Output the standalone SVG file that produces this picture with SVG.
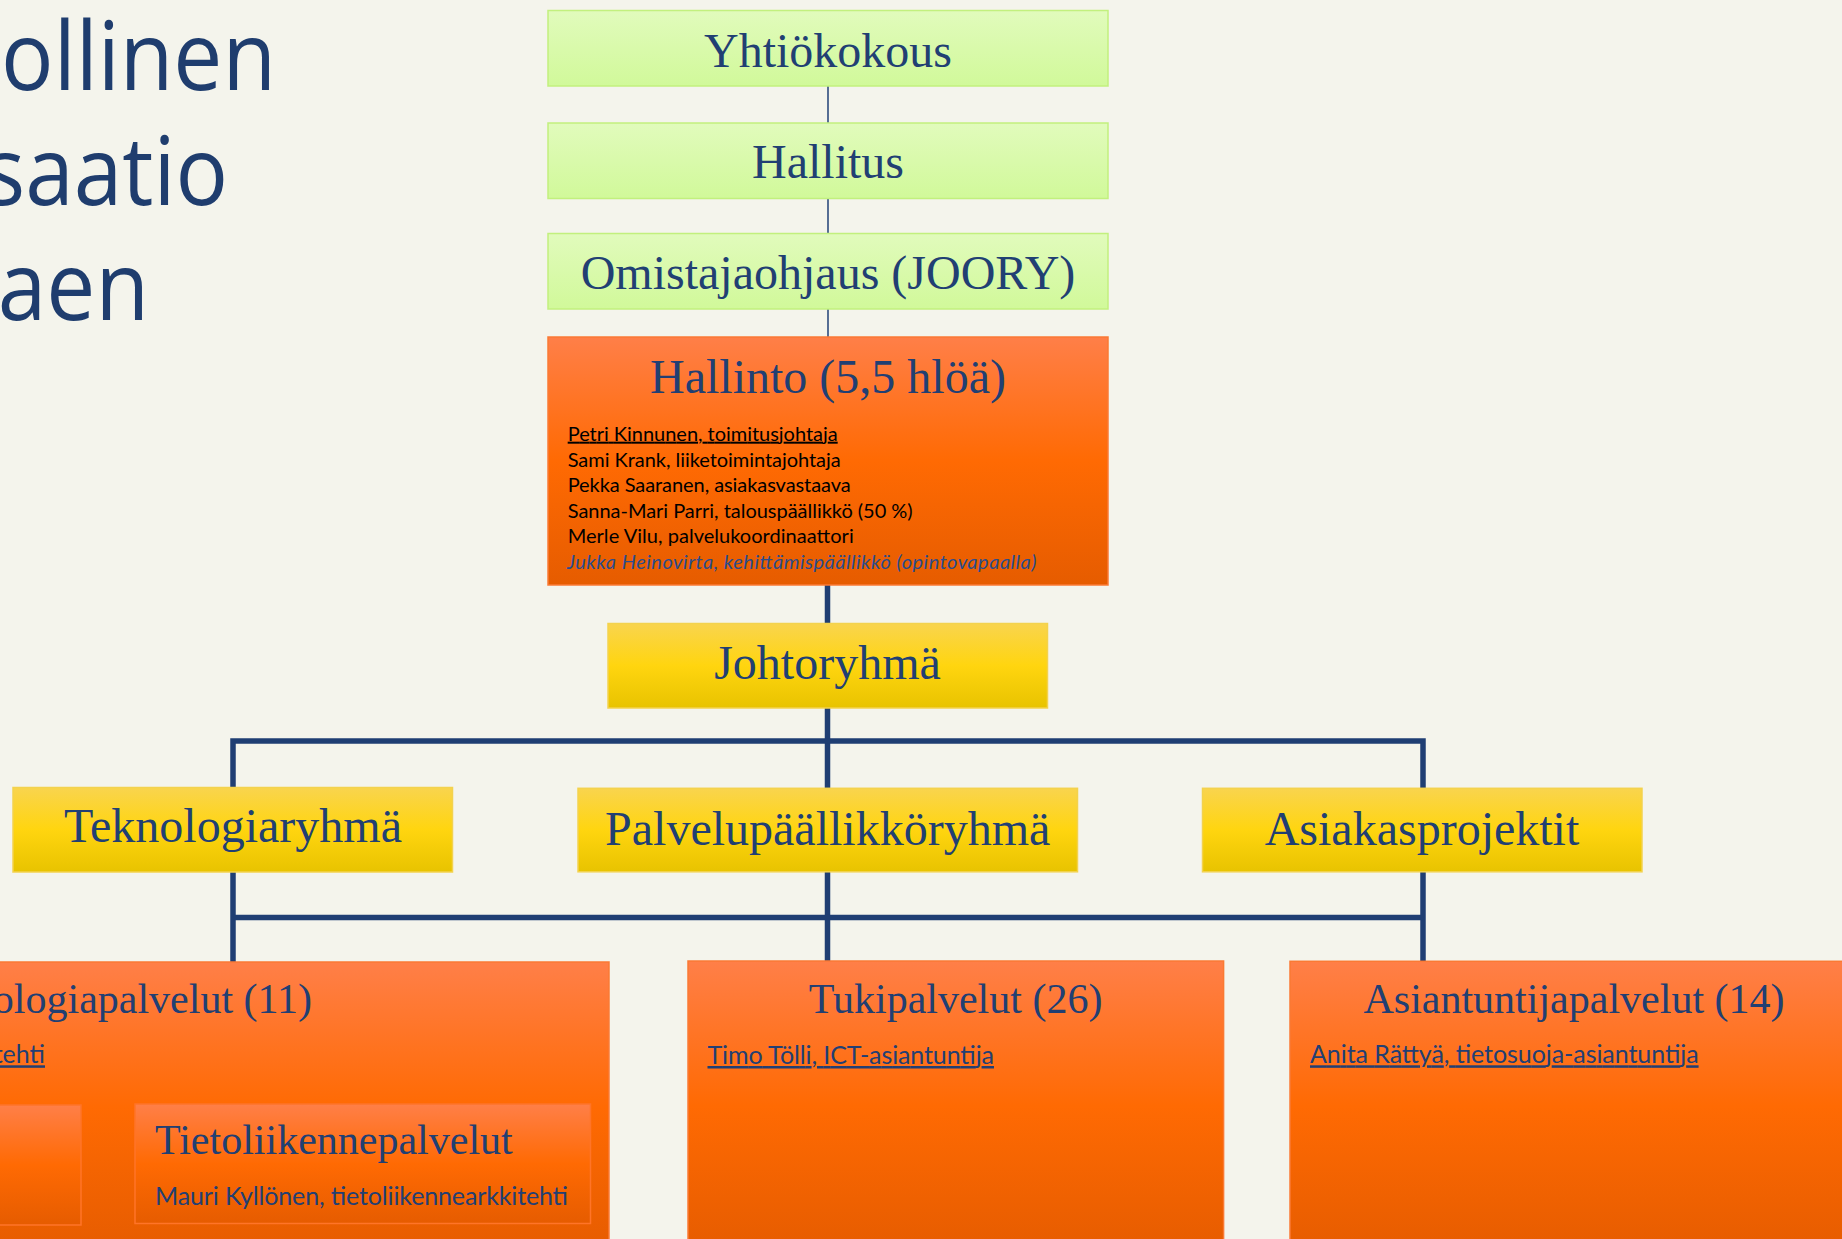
<svg xmlns="http://www.w3.org/2000/svg" width="1842" height="1239" viewBox="0 0 1842 1239">
  <defs>
    <linearGradient id="gGreen" x1="0" y1="0" x2="0" y2="1">
      <stop offset="0" stop-color="#E1FBBC"/>
      <stop offset="1" stop-color="#D1F99A"/>
    </linearGradient>
    <linearGradient id="gOrange" x1="0" y1="0" x2="0" y2="1">
      <stop offset="0" stop-color="#FF7F48"/>
      <stop offset="0.5" stop-color="#FF6A03"/>
      <stop offset="1" stop-color="#E65C00"/>
    </linearGradient>
    <linearGradient id="gYellow" x1="0" y1="0" x2="0" y2="1">
      <stop offset="0" stop-color="#F9D44E"/>
      <stop offset="0.5" stop-color="#FFD50F"/>
      <stop offset="1" stop-color="#E8C300"/>
    </linearGradient>
    <style>
      .green { fill: url(#gGreen); stroke: #C2F07E; stroke-width: 1.5; }
      .orange { fill: url(#gOrange); stroke: #FA7A34; stroke-width: 1.5; }
      .sub { fill: url(#gOrange); stroke: #FF7428; stroke-width: 1.5; }
      .yellow { fill: url(#gYellow); stroke: #F3D24E; stroke-width: 1.5; }
      .serif { font-family: "Liberation Serif", "Times New Roman", serif; fill: #213F73; }
      .big { font-size: 48px; text-anchor: middle; }
      .mid { font-size: 42px; }
      .sans { font-family: Lato, "Liberation Sans", Arial, sans-serif; }
      .small { font-size: 20px; fill: #000; }
      .lower { font-size: 25px; fill: #223F74; }
      .ul { text-decoration: underline; }
      .heading { font-family: "Open Sans", "Noto Sans", sans-serif; font-size: 96px; fill: #1F3D6E; text-anchor: end; }
      .thin { stroke: #2E4C7E; stroke-width: 1.6; fill: none; }
      .thick { stroke: #1F3E73; stroke-width: 5.5; fill: none; stroke-linejoin: miter; stroke-linecap: butt; }
    </style>
  </defs>

  <rect x="0" y="0" width="1842" height="1239" fill="#F4F4EC"/>

  <!-- Slide title fragments -->
  <g id="slide-title">
    <text class="heading" transform="translate(276,90) scale(0.91,1)">ollinen</text>
    <text class="heading" transform="translate(228,205) scale(0.91,1)">saatio</text>
    <text class="heading" transform="translate(149,320) scale(0.91,1)">aen</text>
  </g>

  <!-- Connectors -->
  <g id="connectors">
    <line class="thin" x1="828" y1="86" x2="828" y2="123"/>
    <line class="thin" x1="828" y1="198" x2="828" y2="233"/>
    <line class="thin" x1="828" y1="309" x2="828" y2="337"/>
    <line class="thick" x1="827.5" y1="585" x2="827.5" y2="623"/>
    <line class="thick" x1="827.5" y1="708" x2="827.5" y2="788"/>
    <path class="thick" d="M233,787 V741 H1423 V788"/>
    <line class="thick" x1="233" y1="872" x2="233" y2="962"/>
    <line class="thick" x1="827.5" y1="872" x2="827.5" y2="961"/>
    <line class="thick" x1="1423" y1="872" x2="1423" y2="961"/>
    <line class="thick" x1="233" y1="917.5" x2="1423" y2="917.5"/>
  </g>

  <g id="yhtiokokous">
    <rect class="green" x="548" y="10.5" width="560" height="75.5"/>
    <text class="serif big" x="828" y="66.7">Yhtiökokous</text>
  </g>

  <g id="hallitus">
    <rect class="green" x="548" y="123" width="560" height="75.5"/>
    <text class="serif big" x="828" y="178.3">Hallitus</text>
  </g>

  <g id="omistajaohjaus">
    <rect class="green" x="548" y="233.5" width="560" height="75.5"/>
    <text class="serif big" x="828" y="289.3">Omistajaohjaus (JOORY)</text>
  </g>

  <g id="hallinto">
    <rect class="orange" x="548" y="337" width="560" height="248"/>
    <text class="serif big" x="828" y="393.3">Hallinto (5,5 hlöä)</text>
    <text class="sans small ul" x="567.7" y="440.7" textLength="270" lengthAdjust="spacing">Petri Kinnunen, toimitusjohtaja</text>
    <text class="sans small" x="567.7" y="466.7" textLength="273" lengthAdjust="spacing">Sami Krank, liiketoimintajohtaja</text>
    <text class="sans small" x="567.7" y="492.3" textLength="283" lengthAdjust="spacing">Pekka Saaranen, asiakasvastaava</text>
    <text class="sans small" x="567.7" y="517.7" textLength="345" lengthAdjust="spacing">Sanna-Mari Parri, talouspäällikkö (50 %)</text>
    <text class="sans small" x="567.7" y="543.3" textLength="286" lengthAdjust="spacing">Merle Vilu, palvelukoordinaattori</text>
    <text class="sans small" x="567" y="569" font-style="italic" style="fill:#2A4C8C" textLength="469.5" lengthAdjust="spacing">Jukka Heinovirta, kehittämispäällikkö (opintovapaalla)</text>
  </g>

  <g id="johtoryhma">
    <rect class="yellow" x="608" y="623.5" width="439.5" height="84.5"/>
    <text class="serif big" x="827.5" y="679.3">Johtoryhmä</text>
  </g>

  <g id="teknologiaryhma">
    <rect class="yellow" x="13" y="787.5" width="439.5" height="84.5"/>
    <text class="serif big" x="233" y="842.3">Teknologiaryhmä</text>
  </g>

  <g id="palvelupaallikkoryhma">
    <rect class="yellow" x="578" y="788.3" width="499.5" height="83.5"/>
    <text class="serif big" x="827.7" y="845">Palvelupäällikköryhmä</text>
  </g>

  <g id="asiakasprojektit">
    <rect class="yellow" x="1202.5" y="788.3" width="439.5" height="83.5"/>
    <text class="serif big" x="1422" y="845">Asiakasprojektit</text>
  </g>

  <g id="teknologiapalvelut">
    <rect class="orange" x="-400" y="962" width="1009" height="290"/>
    <text class="serif mid" x="312" y="1013.3" text-anchor="end">ologiapalvelut (11)</text>
    <text class="sans lower ul" x="45" y="1063.3" text-anchor="end">tehti</text>
    <g id="sub-left">
      <rect class="sub" x="-120" y="1105" width="201" height="120"/>
    </g>
    <g id="tietoliikennepalvelut">
      <rect class="sub" x="135" y="1104" width="455.5" height="119.5"/>
      <text class="serif mid" x="155" y="1154.3">Tietoliikennepalvelut</text>
      <text class="sans lower" x="155" y="1205" textLength="413" lengthAdjust="spacing">Mauri Kyllönen, tietoliikennearkkitehti</text>
    </g>
  </g>

  <g id="tukipalvelut">
    <rect class="orange" x="688" y="961" width="535.6" height="290"/>
    <text class="serif mid" x="955.6" y="1013.3" text-anchor="middle">Tukipalvelut (26)</text>
    <text class="sans lower ul" x="707.5" y="1064" textLength="286.5" lengthAdjust="spacing">Timo Tölli, ICT-asiantuntija</text>
  </g>

  <g id="asiantuntijapalvelut">
    <rect class="orange" x="1290" y="961.3" width="600" height="290"/>
    <text class="serif mid" x="1574" y="1013.3" text-anchor="middle">Asiantuntijapalvelut (14)</text>
    <text class="sans lower ul" x="1310" y="1063.3" textLength="388.6" lengthAdjust="spacing">Anita Rättyä, tietosuoja-asiantuntija</text>
  </g>
</svg>
